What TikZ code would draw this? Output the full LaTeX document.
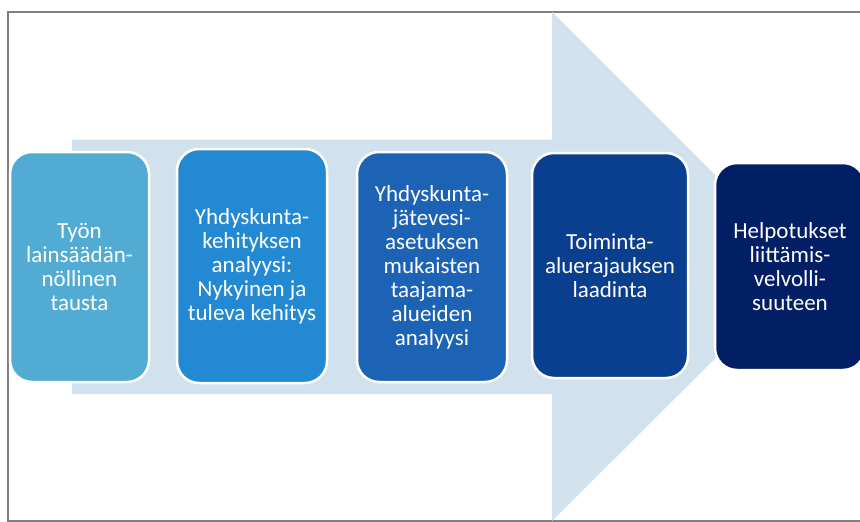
\documentclass[tikz,border=0pt]{standalone}
\usepackage{fontspec}
\setmainfont{Carlito}
\usepackage{tikz}
\usetikzlibrary{positioning}
\definecolor{arrowbg}{RGB}{209,226,238}
\definecolor{frameline}{RGB}{128,128,128}
\definecolor{boxA}{RGB}{82,171,211}
\definecolor{boxB}{RGB}{36,137,211}
\definecolor{boxC}{RGB}{28,99,182}
\definecolor{boxD}{RGB}{10,62,143}
\definecolor{boxE}{RGB}{2,30,100}
\tikzset{stepbox/.style={draw=white, line width=2.5pt, rounded corners=22pt,
  text=white, align=center, inner sep=0pt,
  font=\fontsize{23}{24}\selectfont}}

\begin{document}
\begin{tikzpicture}[x=1pt,y=-1pt]
	\clip (0,0) rectangle (860,522);
	
	% Draw the frame
	\draw[frameline, line width=1.5pt] (8,12) rectangle (875,521);
	
	% Draw the big arrow behind the steps
	\fill[arrowbg] (72,139.5) -- (552,139.5) -- (552,12) -- (807,267)
		-- (552,521) -- (552,394) -- (72,394) -- cycle;
	
	% Steps
	\node[stepbox, fill=boxA, minimum width=139pt, minimum height=230pt] (tausta) at (79.5,267)
		{Työn\\lainsäädän-\\nöllinen\\tausta};
	\node[stepbox, fill=boxB, minimum width=150pt, minimum height=234pt] (kehitys) at (252,266)
		{Yhdyskunta-\\kehityksen\\analyysi:\\Nykyinen ja\\tuleva kehitys};
	\node[stepbox, fill=boxC, minimum width=150pt, minimum height=230pt] (taajama) at (432,267)
		{Yhdyskunta-\\jätevesi-\\asetuksen\\mukaisten\\taajama-\\alueiden\\analyysi};
	\node[stepbox, fill=boxD, minimum width=156pt, minimum height=225pt] (rajaus) at (610,265.5)
		{Toiminta-\\aluerajauksen\\laadinta};
	\node[stepbox, fill=boxE, minimum width=150pt, minimum height=207pt] (helpotus) at (790,266.5)
		{Helpotukset\\liittämis-\\velvolli-\\suuteen};
\end{tikzpicture}
\end{document}
